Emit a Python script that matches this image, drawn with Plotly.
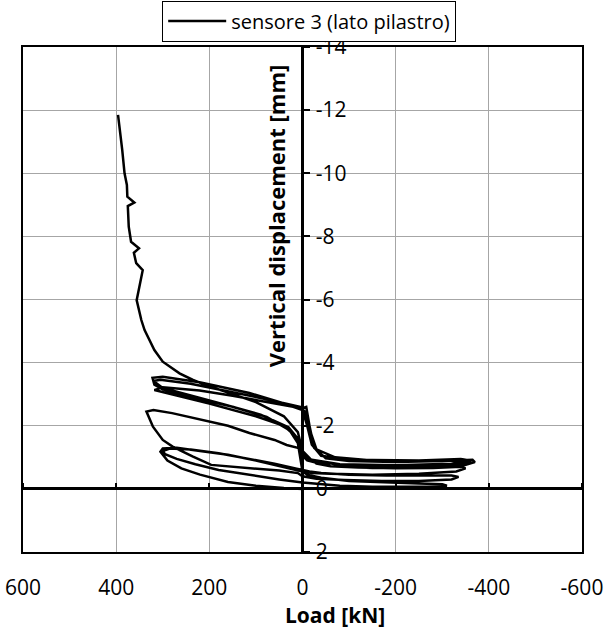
import plotly.graph_objects as go

# ---- data (Load [kN], Vertical displacement [mm]) ----
load_c1 = [0, 40, 100, 160, 220, 260, 290, 305, 300, 270, 220, 160, 100, 50, 15, 0,
           -10, -40, -100, -180, -250, -300, -310, -290, -220, -150, -80, -30, 0]
disp_c1 = [0, -0.03, -0.1, -0.22, -0.45, -0.65, -0.9, -1.18, -1.28, -1.3, -1.2, -1.08, -0.9, -0.72, -0.6, -0.55,
           -0.45, -0.35, -0.25, -0.2, -0.17, -0.15, -0.1, -0.07, -0.06, -0.07, -0.1, -0.15, -0.2]

load_c2 = [50, 120, 180, 230, 270, 295, 300, 285, 240, 180, 120, 60, 15, 0,
           -15, -40, -100, -180, -260, -320, -335, -320, -250, -170, -90, -30, 0]
disp_c2 = [-0.3, -0.45, -0.6, -0.78, -0.95, -1.1, -1.2, -1.28, -1.25, -1.13, -0.97, -0.8, -0.65, -0.6,
           -0.55, -0.5, -0.45, -0.42, -0.42, -0.42, -0.38, -0.3, -0.25, -0.25, -0.28, -0.32, -0.4]

load_c3 = [10, 50, 120, 196, 235, 278, 300, 321, 335, 320, 280, 221, 160, 114, 60, 34, 10, 0,
           -10, -30, -60, -120, -200, -280, -340, -350, -330, -250, -150, -60, -20, 0]
disp_c3 = [-0.5, -0.58, -0.66, -0.76, -1.02, -1.33, -1.55, -1.97, -2.45, -2.5, -2.4, -2.21, -2.0, -1.77, -1.55, -1.39, -1.3, -1.2,
           -1.0, -0.8, -0.72, -0.68, -0.65, -0.66, -0.7, -0.65, -0.55, -0.48, -0.45, -0.48, -0.5, -0.55]

load_c4 = [5, 10, 28, 77, 150, 257, 300, 318, 322, 300, 221, 114, 43, 0,
           -8, -15, -25, -50, -100, -200, -300, -365, -370, -340, -250, -150, -60, -10]
disp_c4 = [-1.0, -1.45, -1.86, -2.28, -2.6, -2.97, -3.15, -3.3, -3.52, -3.55, -3.38, -3.04, -2.72, -2.56,
           -2.6, -2.0, -1.3, -0.97, -0.88, -0.85, -0.88, -0.92, -0.85, -0.72, -0.66, -0.66, -0.72, -0.9]

load_c5 = [0, 10, 40, 100, 200, 280, 318, 300, 221, 150, 80, 20, 0,
           -10, -20, -40, -100, -250, -340, -355, -320, -200, -80, -10]
disp_c5 = [-1.05, -1.6, -2.0, -2.3, -2.7, -3.0, -3.13, -3.22, -3.12, -2.95, -2.75, -2.6, -2.5,
           -2.0, -1.4, -1.05, -0.92, -0.9, -0.95, -0.9, -0.8, -0.75, -0.78, -0.95]

load_c6 = [0, 8, 30, 90, 170, 250, 300, 320, 305, 240, 160, 90, 30, 5,
           -5, -15, -30, -70, -150, -260, -350, -362, -330, -220, -100, -20]
disp_c6 = [-1.1, -1.55, -1.95, -2.35, -2.68, -3.0, -3.2, -3.42, -3.46, -3.33, -3.1, -2.88, -2.68, -2.6,
           -2.45, -1.9, -1.25, -1.0, -0.9, -0.88, -0.9, -0.85, -0.76, -0.7, -0.72, -0.9]

load_fin = [0, 10, 40, 100, 150, 200, 235, 264, 300, 318, 339, 346, 356, 343, 357, 362,
            351, 368, 373, 375, 361, 376, 377, 382, 387, 396]
disp_fin = [-1.2, -1.8, -2.3, -2.75, -3.0, -3.25, -3.45, -3.66, -4.03, -4.4, -5.03, -5.35, -5.98, -6.93, -7.15, -7.48,
            -7.62, -7.83, -8.31, -8.96, -9.07, -9.26, -9.63, -10.0, -10.74, -11.85]

load = load_c1 + load_c2 + load_c3 + load_c4 + load_c5 + load_c6 + load_fin
disp = disp_c1 + disp_c2 + disp_c3 + disp_c4 + disp_c5 + disp_c6 + disp_fin

x_ticks = [600, 400, 200, 0, -200, -400, -600]
y_ticks = [-14, -12, -10, -8, -6, -4, -2, 0, 2]

FONT = "Open Sans"
GRID = "#a6a6a6"

fig = go.Figure()
fig.add_trace(go.Scatter(
    x=load, y=disp, mode="lines",
    line=dict(color="black", width=2.5),
    name="sensore 3 (lato pilastro)",
))
# invisible helper trace that carries the crossing axes (ticks at the origin lines)
fig.add_trace(go.Scatter(
    x=[0], y=[0], xaxis="x2", yaxis="y2", mode="markers",
    marker=dict(opacity=0), showlegend=False, hoverinfo="skip",
))

fig.update_layout(
    width=608, height=635,
    margin=dict(l=23, r=26, t=47, b=83, autoexpand=False),
    paper_bgcolor="white", plot_bgcolor="white",
    font=dict(family=FONT, color="black"),
    showlegend=True,
    legend=dict(
        x=0.249, y=1.092, xanchor="left", yanchor="top",
        bordercolor="black", borderwidth=1, bgcolor="white",
        font=dict(family=FONT, size=20, color="black"),
        itemwidth=58, tracegroupgap=0,
    ),
    xaxis=dict(
        range=[600, -600], tickvals=x_ticks, ticktext=[str(v) for v in x_ticks],
        showgrid=True, gridcolor=GRID, gridwidth=1,
        showline=True, mirror=True, linecolor="black", linewidth=2,
        zeroline=True, zerolinecolor="black", zerolinewidth=3,
        ticks="", ticklabelstandoff=16, automargin=False,
        tickfont=dict(family=FONT, size=21, color="black"),
    ),
    yaxis=dict(
        range=[2, -14], tickvals=y_ticks,
        showgrid=True, gridcolor=GRID, gridwidth=1,
        showline=True, mirror=True, linecolor="black", linewidth=2,
        zeroline=True, zerolinecolor="black", zerolinewidth=3,
        showticklabels=False, ticks="", automargin=False,
    ),
    xaxis2=dict(
        overlaying="x", anchor="free", position=0.125, side="top",
        range=[600, -600], tickvals=x_ticks, ticks="outside", ticklen=6, tickwidth=2,
        tickcolor="black", showticklabels=False, showgrid=False, showline=False, zeroline=False,
        automargin=False,
    ),
    yaxis2=dict(
        overlaying="y", anchor="free", position=0.5, side="right",
        range=[2, -14], tickvals=y_ticks, ticktext=[str(v) for v in y_ticks],
        ticks="outside", ticklen=6, tickwidth=2, tickcolor="black",
        ticklabelstandoff=2, automargin=False,
        tickfont=dict(family=FONT, size=21, color="black"),
        showgrid=False, showline=False, zeroline=False,
    ),
    annotations=[
        dict(text="<b>Load [kN]</b>", xref="paper", yref="paper", x=0.558, y=-0.125,
             xanchor="center", yanchor="middle", showarrow=False,
             font=dict(family=FONT, size=21, color="black")),
        dict(text="<b>Vertical displacement [mm]</b>", xref="paper", yref="paper", x=0.4526, y=0.665,
             xanchor="center", yanchor="middle", showarrow=False, textangle=-90,
             font=dict(family=FONT, size=22, color="black")),
    ],
)

fig.write_html("out.html")
